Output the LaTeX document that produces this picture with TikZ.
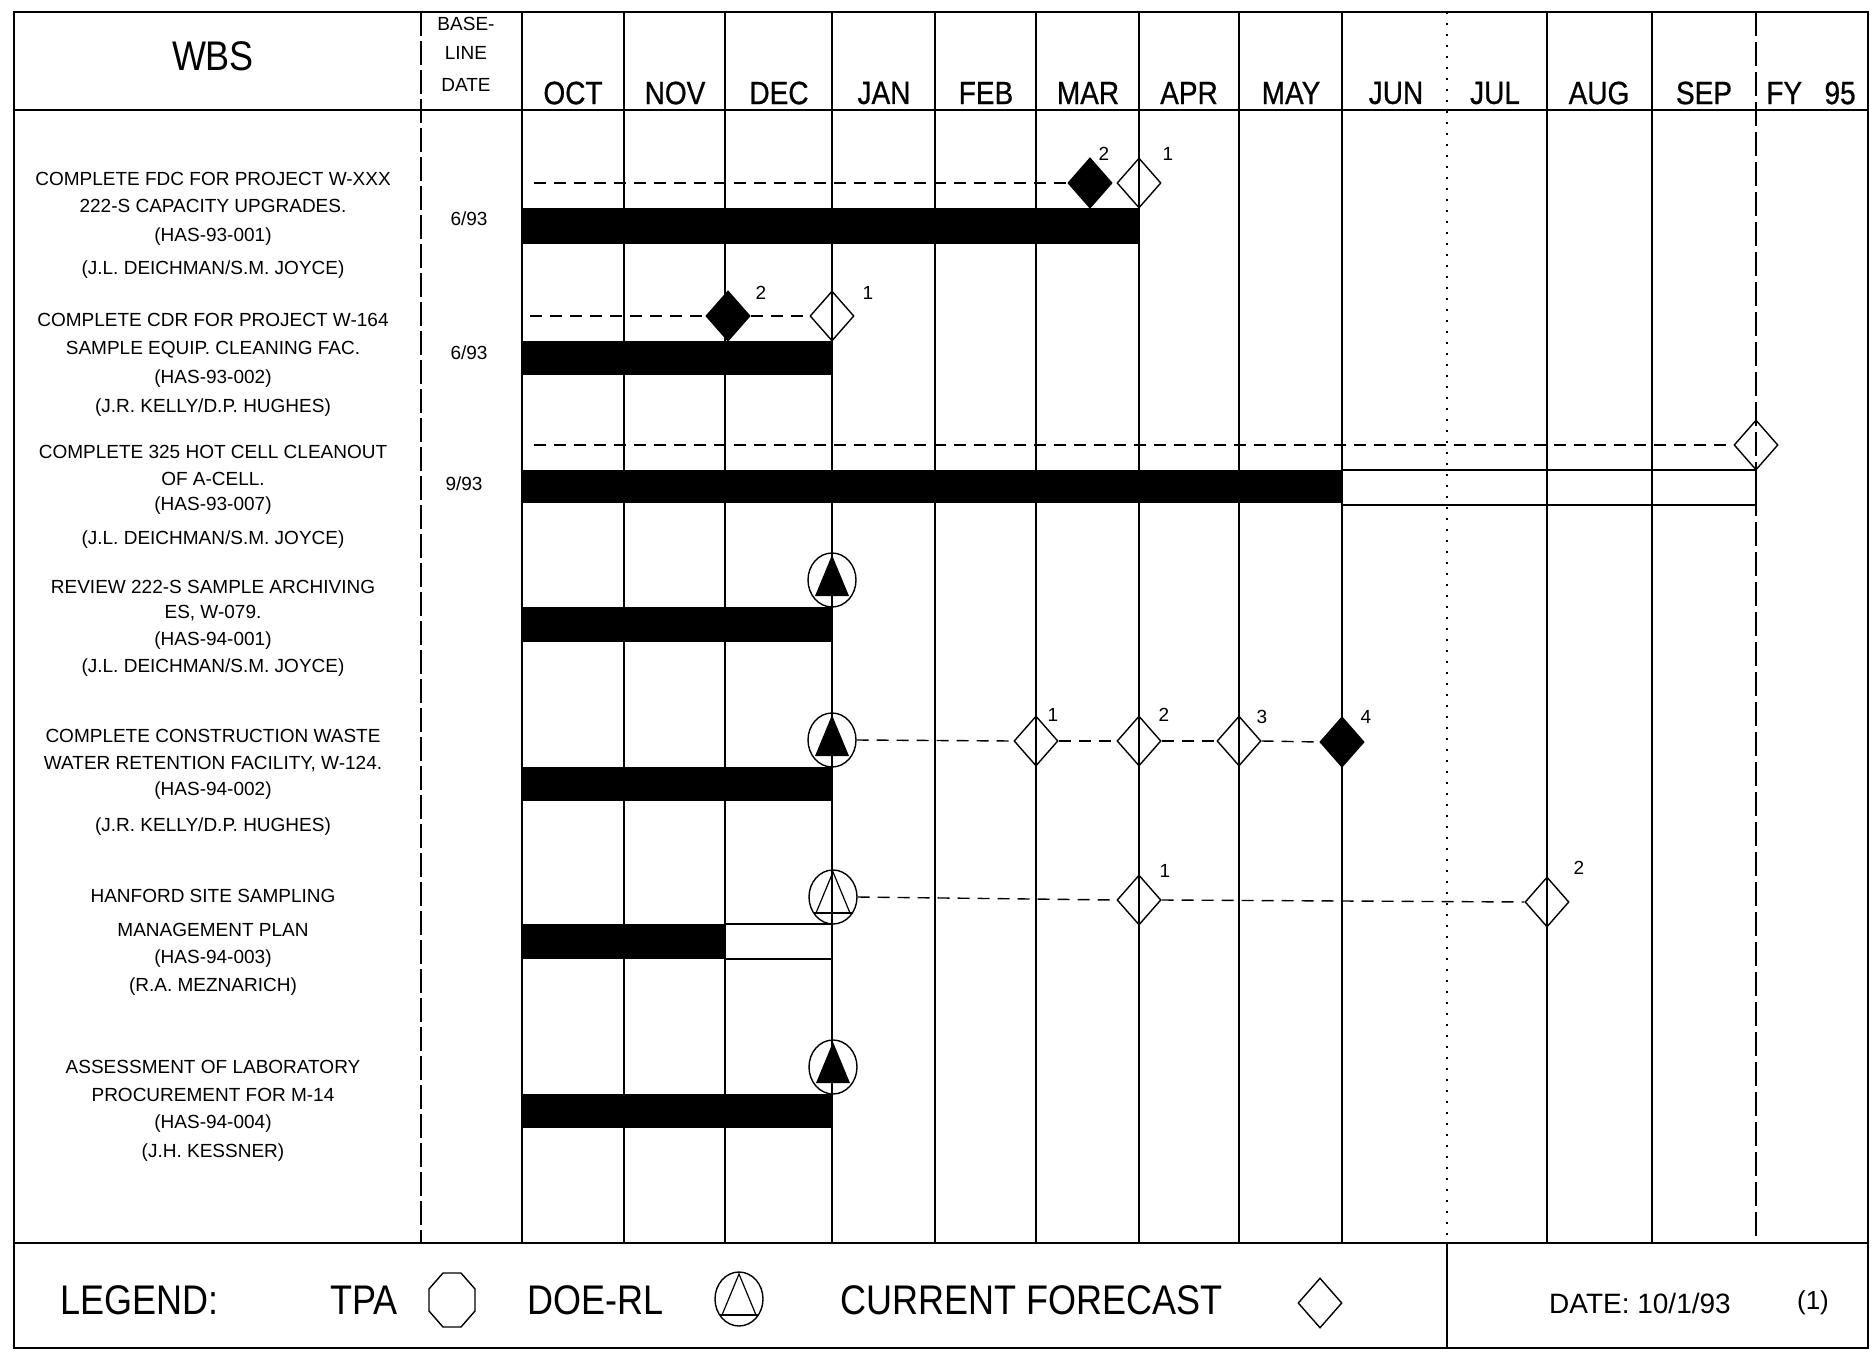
\documentclass[tikz,border=0pt]{standalone}
\usepackage{fontspec}
\setmainfont{Liberation Sans}
\newfontfamily\monthfont[FakeBold=0.8]{Liberation Sans}
\usetikzlibrary{shapes.geometric,calc}
\newcommand\tallish[1]{\scalebox{1}[1.15]{#1}}
\begin{document}
\begin{tikzpicture}[x=1pt,y=-1pt,
  frame/.style={line width=2.2pt},
  gridl/.style={line width=1.3pt},
  task/.style={font=\fontsize{19}{19}\selectfont, inner sep=0pt},
  hdr/.style={font=\fontsize{19}{19}\selectfont, inner sep=0pt},
  month/.style={font=\monthfont\fontsize{28}{28}\selectfont, inner sep=0pt},
  num/.style={font=\fontsize{19}{19}\selectfont, inner sep=0pt},
  leg/.style={font=\fontsize{36}{36}\selectfont, inner sep=0pt, anchor=west},
  ms/.style={shape=diamond, draw, line width=1.4pt, minimum width=44pt, minimum height=50pt, inner sep=0pt},
  msf/.style={ms, fill=black},
  dsym/.style={shape=ellipse, draw, line width=1.4pt, minimum width=48pt, minimum height=54pt, inner sep=0pt},
  fcline/.style={line width=1.4pt, dash pattern=on 12pt off 8pt}
]
\useasboundingbox (0,0) rectangle (1874,1352);
% ---------- frame and grid
\draw[frame] (14,12) rectangle (1868,1348);
\draw[frame] (14,110) -- (1868,110);
\draw[frame] (14,1243) -- (1868,1243);
\draw[gridl, dash pattern=on 24pt off 5pt] (421,12) -- (421,1243);
\draw[gridl] (522,12) -- (522,1243);
\foreach \x in {624,725,832,935,1036,1139,1239,1342,1547,1652}
  \draw[gridl] (\x,12) -- (\x,1243);
\draw[gridl, dash pattern=on 2pt off 9pt] (1447,12) -- (1447,1243);
\draw[gridl, dash pattern=on 24pt off 6pt] (1756,12) -- (1756,1243);
\draw[frame] (1447,1243) -- (1447,1348);
% ---------- header
\node[font=\fontsize{36}{36}\selectfont, inner sep=0pt] (wbs) at (213,56) {\tallish{WBS}};
\node[hdr] (bl1) at (466,24) {BASE-};
\node[hdr] (bl2) at (466,53) {LINE};
\node[hdr] (bl3) at (466,85) {DATE};
\foreach \x/\m in {573/OCT,675/NOV,779/DEC,884/JAN,986/FEB,1088/MAR,1189/APR,1291/MAY,1396/JUN,1495/JUL,1599/AUG,1704/SEP}
  \node[month] (m\m) at (\x,93) {\tallish{\m}};
\node[month] (mFY) at (1811,93) {\tallish{FY\hspace{0.8em}95}};
% ---------- row 1
\node[task] (t1a) at (213,179) {COMPLETE FDC FOR PROJECT W-XXX};
\node[task] (t1b) at (213,206) {222-S CAPACITY UPGRADES.};
\node[task] (t1c) at (213,237) {(HAS-93-001)};
\node[task] (t1d) at (213,270) {(J.L. DEICHMAN/S.M. JOYCE)};
\node[task] (b1) at (469,219) {6/93};
\fill (522,208) rectangle (1139,244);
\node[msf] (d1b) at (1090,183) {};
\node[ms] (d1a) at (1139,183) {};
\coordinate (s1) at (534,183);
\draw[fcline] (s1) -- (d1b.west);
\node[num] (n1b) at (1104,154) {2};
\node[num] (n1a) at (1168,154) {1};
% ---------- row 2
\node[task] (t2a) at (213,320) {COMPLETE CDR FOR PROJECT W-164};
\node[task] (t2b) at (213,350) {SAMPLE EQUIP. CLEANING FAC.};
\node[task] (t2c) at (213,379) {(HAS-93-002)};
\node[task] (t2d) at (213,408) {(J.R. KELLY/D.P. HUGHES)};
\node[task] (b2) at (469,353) {6/93};
\fill (522,341) rectangle (832,375);
\node[msf] (d2b) at (728,316) {};
\node[ms] (d2a) at (832,316) {};
\coordinate (s2) at (530,316);
\draw[fcline] (s2) -- (d2b.west);
\draw[fcline] (d2b.east) -- (d2a.west);
\node[num] (n2b) at (761,293) {2};
\node[num] (n2a) at (868,293) {1};
% ---------- row 3
\node[task] (t3a) at (213,452) {COMPLETE 325 HOT CELL CLEANOUT};
\node[task] (t3b) at (213,479) {OF A-CELL.};
\node[task] (t3c) at (213,506) {(HAS-93-007)};
\node[task] (t3d) at (213,540) {(J.L. DEICHMAN/S.M. JOYCE)};
\node[task] (b3) at (464,484) {9/93};
\fill (522,470) rectangle (1342,503);
\draw[gridl] (1342,470) rectangle (1756,505);
\node[ms] (d3) at (1756,445) {};
\coordinate (s3) at (534,445);
\draw[fcline] (s3) -- (d3.west);
% ---------- row 4
\node[task] (t4a) at (213,587) {REVIEW 222-S SAMPLE ARCHIVING};
\node[task] (t4b) at (213,613) {ES, W-079.};
\node[task] (t4c) at (213,641) {(HAS-94-001)};
\node[task] (t4d) at (213,668) {(J.L. DEICHMAN/S.M. JOYCE)};
\fill (522,607) rectangle (832,642);
\node[dsym] (c4) at (832,580) {};
\fill ($(c4)+(0,-25)$) -- ($(c4)+(-17,16)$) -- ($(c4)+(17,16)$) -- cycle;
% ---------- row 5
\node[task] (t5a) at (213,736) {COMPLETE CONSTRUCTION WASTE};
\node[task] (t5b) at (213,764) {WATER RETENTION FACILITY, W-124.};
\node[task] (t5c) at (213,791) {(HAS-94-002)};
\node[task] (t5d) at (213,827) {(J.R. KELLY/D.P. HUGHES)};
\fill (522,767) rectangle (832,801);
\node[dsym] (c5) at (832,740) {};
\fill ($(c5)+(0,-25)$) -- ($(c5)+(-17,16)$) -- ($(c5)+(17,16)$) -- cycle;
\node[ms] (d5a) at (1036,741) {};
\node[ms] (d5b) at (1139,741) {};
\node[ms] (d5c) at (1239,741) {};
\node[msf] (d5d) at (1342,742) {};
\draw[fcline] (c5.east) -- (d5a.west);
\draw[fcline] (d5a.east) -- (d5b.west);
\draw[fcline] (d5b.east) -- (d5c.west);
\draw[fcline] (d5c.east) -- (d5d.west);
\node[num] (n5a) at (1053,715) {1};
\node[num] (n5b) at (1164,715) {2};
\node[num] (n5c) at (1262,717) {3};
\node[num] (n5d) at (1366,717) {4};
% ---------- row 6
\node[task] (t6a) at (213,896) {HANFORD SITE SAMPLING};
\node[task] (t6b) at (213,930) {MANAGEMENT PLAN};
\node[task] (t6c) at (213,959) {(HAS-94-003)};
\node[task] (t6d) at (213,987) {(R.A. MEZNARICH)};
\fill (522,924) rectangle (725,959);
\draw[gridl] (725,924) rectangle (832,959);
\node[dsym] (c6) at (833,897) {};
\draw[line width=1.2pt] ($(c6)+(0,-25)$) -- ($(c6)+(-17,16)$) -- ($(c6)+(17,16)$) -- cycle;
\draw[line width=1.2pt] ($(c6)+(-19.5,16)$) -- ($(c6)+(19.5,16)$);
\node[ms] (d6a) at (1139,900) {};
\node[ms] (d6b) at (1547,902) {};
\draw[fcline] (c6.east) -- (d6a.west);
\draw[fcline] (d6a.east) -- (d6b.west);
\node[num] (n6a) at (1165,871) {1};
\node[num] (n6b) at (1579,868) {2};
% ---------- row 7
\node[task] (t7a) at (213,1067) {ASSESSMENT OF LABORATORY};
\node[task] (t7b) at (213,1095) {PROCUREMENT FOR M-14};
\node[task] (t7c) at (213,1124) {(HAS-94-004)};
\node[task] (t7d) at (213,1153) {(J.H. KESSNER)};
\fill (522,1094) rectangle (833,1128);
\node[dsym] (c7) at (833,1067) {};
\fill ($(c7)+(0,-25)$) -- ($(c7)+(-17,16)$) -- ($(c7)+(17,16)$) -- cycle;
% ---------- legend
\node[leg] (lg) at (60,1300) {\tallish{LEGEND:}};
\node[leg] (ltpa) at (330,1300) {\tallish{TPA}};
\coordinate (oct) at (452,1300);
\draw[line width=1.4pt] (oct) +(-9,-27) -- +(9,-27) -- +(23,-11) -- +(23,11) -- +(9,27) -- +(-9,27) -- +(-23,11) -- +(-23,-11) -- cycle;
\node[leg] (ldoe) at (527,1300) {\tallish{DOE-RL}};
\node[dsym] (lc) at (739,1299) {};
\draw[line width=1.2pt] ($(lc)+(0,-25)$) -- ($(lc)+(-17,16)$) -- ($(lc)+(17,16)$) -- cycle;
\draw[line width=1.2pt] ($(lc)+(-19.5,16)$) -- ($(lc)+(19.5,16)$);
\node[leg] (lcf) at (840,1300) {\tallish{CURRENT FORECAST}};
\node[ms] (ld) at (1320,1303) {};
\node[font=\fontsize{28}{28}\selectfont, inner sep=0pt, anchor=west] (ldate) at (1549,1303) {DATE: 10/1/93};
\node[font=\fontsize{26}{26}\selectfont, inner sep=0pt] (lpg) at (1813,1303) {(1)};
\end{tikzpicture}
\end{document}
